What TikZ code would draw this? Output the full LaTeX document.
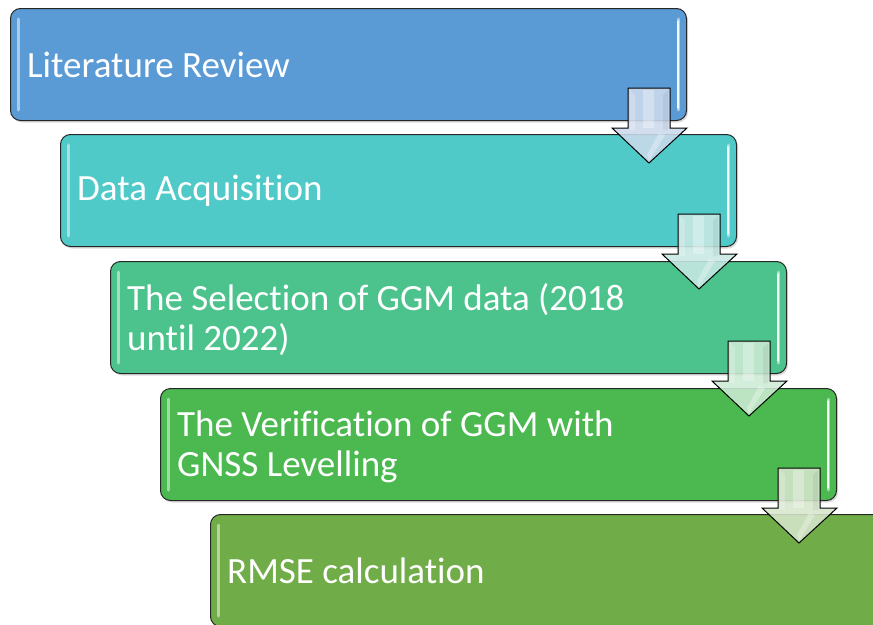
\documentclass[tikz,border=0pt]{standalone}
\usepackage{fontspec}
\setmainfont[RawFeature={-liga}]{Carlito}
\usetikzlibrary{shadows}

% stage fills
\definecolor{fillA}{RGB}{91,155,213}
\definecolor{fillB}{RGB}{80,202,200}
\definecolor{fillC}{RGB}{76,195,140}
\definecolor{fillD}{RGB}{76,185,80}
\definecolor{fillE}{RGB}{112,172,71}
% block-arrow fills
\definecolor{arrA}{RGB}{204,218,236}
\definecolor{arrB}{RGB}{200,232,228}
\definecolor{arrC}{RGB}{204,234,212}
\definecolor{arrD}{RGB}{214,230,204}

\begin{document}
\begin{tikzpicture}[x=1pt,y=-1pt,
  stagebox/.style={draw=black!85, line width=1pt, rounded corners=10pt,
    minimum width=676pt, minimum height=112pt, anchor=north west, inner sep=0pt,
    drop shadow={opacity=0.28, shadow xshift=1.5pt, shadow yshift=-2pt}},
  stagetext/.style={text=white, font=\fontsize{37}{40}\selectfont,
    anchor=west, align=left, inner sep=0pt},
  glow/.style={line width=3pt, line cap=round, opacity=0.75},
  glowcore/.style={line width=1.2pt, line cap=round, white, opacity=0.9},
  blockarrow/.style={draw=black, line width=1pt, line join=miter, fill opacity=0.88}
]
\useasboundingbox (0,0) rectangle (873,624);
\clip (0,0) rectangle (873,624);

% the five stages, stepping down to the right
\node[stagebox, fill=fillA] (s1) at (10,8) {};
\node[stagebox, fill=fillB] (s2) at (60,134) {};
\node[stagebox, fill=fillC] (s3) at (110,261) {};
\node[stagebox, fill=fillD] (s4) at (160,388) {};
\node[stagebox, fill=fillE, minimum height=112pt] (s5) at (210,514) {};

% glossy edge highlights
\foreach \s/\c in {s1/fillA,s2/fillB,s3/fillC,s4/fillD,s5/fillE}{
  \draw[glow, draw=\c!35!white] ([xshift=8pt,yshift=-11pt]\s.north west) -- ([xshift=8pt,yshift=11pt]\s.south west);
  \draw[glow, draw=\c!35!white] ([xshift=-9pt,yshift=-11pt]\s.north east) -- ([xshift=-9pt,yshift=11pt]\s.south east);
  \draw[glowcore] ([xshift=-9pt,yshift=-13pt]\s.north east) -- ([xshift=-9pt,yshift=13pt]\s.south east);
}

% downward block arrows between consecutive stages
\foreach \s/\c in {s1/arrA,s2/arrB,s3/arrC,s4/arrD}{
  \begin{scope}[shift={(\s.south east)}]
    \draw[blockarrow, fill=\c]
      (-59,-33) -- (-17,-33) -- (-17,7) -- (0,7) -- (-38,42) -- (-75,7) -- (-59,7) -- cycle;
    % bevel shading on the shaft and head
    \fill[white, opacity=0.3] (-44,-31) -- (-33,-31) -- (-33,7) -- (-44,7) -- cycle;
    \fill[white, opacity=0.22] (-57,-31) -- (-52,-26) -- (-52,9) -- (-57,9) -- cycle;
    \fill[black, opacity=0.05] (-19,-31) -- (-24,-26) -- (-24,9) -- (-19,9) -- cycle;
    \fill[white, opacity=0.3] (-38,40) -- (-22,14) -- (-28,12) -- (-40,34) -- cycle;
  \end{scope}
}

% stage labels
\node[stagetext] (t1) at ([xshift=17pt]s1.west) {Literature Review};
\node[stagetext] (t2) at ([xshift=17pt]s2.west) {Data Acquisition};
\node[stagetext] (t3) at ([xshift=17pt,yshift=-2pt]s3.west) {The Selection of GGM data (2018\\until 2022)};
\node[stagetext] (t4) at ([xshift=17pt,yshift=-2pt]s4.west) {The Verification of GGM with\\GNSS Levelling};
\node[stagetext] (t5) at ([xshift=17pt,yshift=0pt]s5.west) {RMSE calculation};
\end{tikzpicture}
\end{document}
